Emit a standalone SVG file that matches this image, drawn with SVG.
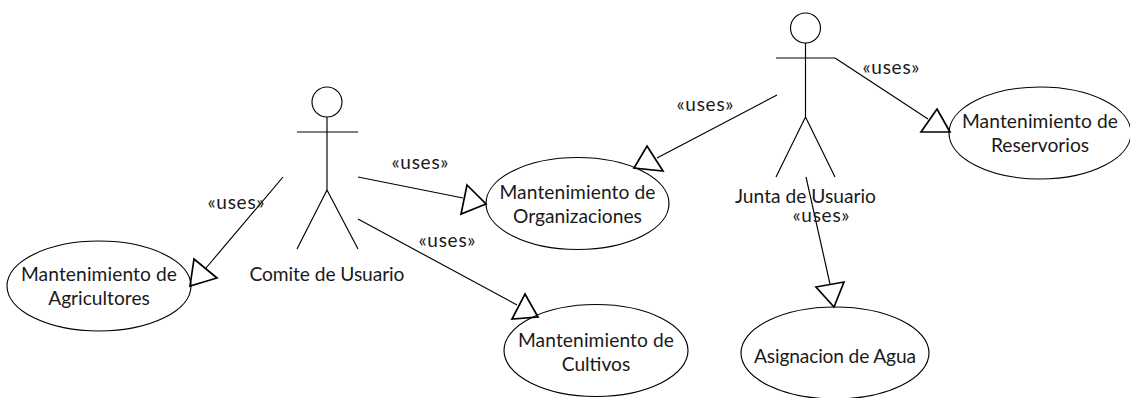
<svg xmlns="http://www.w3.org/2000/svg" width="1130" height="398" viewBox="0 0 1130 398">
<style>
.s{fill:none;stroke:#000;stroke-width:1.15}
.h{fill:none;stroke:#000;stroke-width:1.7}
text{font-family:"Lato","Open Sans",sans-serif;font-size:19.2px;fill:#1a1a1a;text-anchor:middle}
.u{font-size:19px}
</style>
<rect width="1130" height="398" fill="#fff"/>
<g id="connectors">
<path class="s" d="M283 177L206 268M358 177L463 198M358 219L517 305M777 95L657 158M835 58L928 119M806 177L830 284"/>
<polygon class="h" points="194,259 217,278 190,286"/>
<polygon class="h" points="467,185 486,204 461,214"/>
<polygon class="h" points="525,294 538,317 512,319"/>
<polygon class="h" points="647,146 663,171 634,168"/>
<polygon class="h" points="937,109 950,132 921,132"/>
<polygon class="h" points="844,282 834,307 816,287"/>
<text class="u" x="236" y="209" textLength="57">«uses»</text>
<text class="u" x="420" y="169" textLength="57">«uses»</text>
<text class="u" x="447" y="247" textLength="57">«uses»</text>
<text class="u" x="705" y="111" textLength="57">«uses»</text>
<text class="u" x="891" y="74" textLength="57">«uses»</text>
<text class="u" x="821" y="222" textLength="57">«uses»</text>
</g>
<g id="actor-comite">
<circle class="s" cx="327" cy="102" r="15"/>
<path class="s" d="M327 117V190M297 132H358M327 190L297 249M327 190L358 249"/>
<text x="327" y="281" textLength="155">Comite de Usuario</text>
</g>
<g id="actor-junta">
<circle class="s" cx="805.500" cy="28" r="15"/>
<path class="s" d="M805.500 43V117M776 58H835M805.500 117L776 177M805.500 117L835 177"/>
<text x="805.500" y="203" textLength="141">Junta de Usuario</text>
</g>
<g id="uc-agricultores">
<ellipse class="s" cx="99" cy="286" rx="92" ry="45"/>
<text x="99" y="281" textLength="156">Mantenimiento de</text>
<text x="99" y="305">Agricultores</text>
</g>
<g id="uc-organizaciones">
<ellipse class="s" cx="577.500" cy="203.500" rx="91.500" ry="46"/>
<text x="577.500" y="199" textLength="156">Mantenimiento de</text>
<text x="577.500" y="223">Organizaciones</text>
</g>
<g id="uc-cultivos">
<ellipse class="s" cx="596" cy="350.500" rx="92" ry="46"/>
<text x="596" y="347" textLength="156">Mantenimiento de</text>
<text x="596" y="371">Cultivos</text>
</g>
<g id="uc-reservorios">
<ellipse class="s" cx="1040" cy="133" rx="91" ry="46"/>
<text x="1040" y="128" textLength="156">Mantenimiento de</text>
<text x="1040" y="152">Reservorios</text>
</g>
<g id="uc-agua">
<ellipse class="s" cx="835" cy="353" rx="94" ry="46"/>
<text x="835" y="363" textLength="162">Asignacion de Agua</text>
</g>
</svg>
